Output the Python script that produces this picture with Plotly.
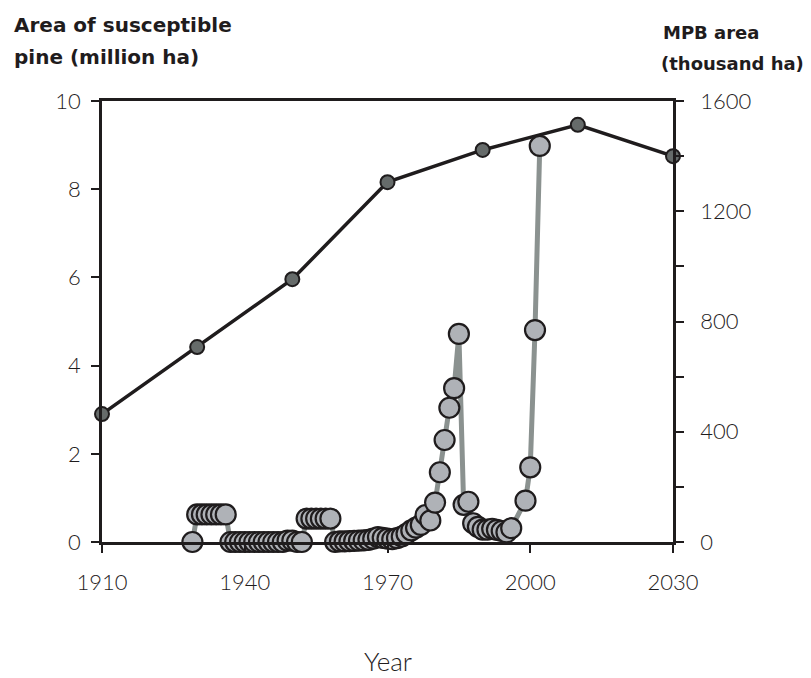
import plotly.graph_objects as go

# Susceptible pine area (million ha), left axis
pine_years = [1910, 1930, 1950, 1970, 1990, 2010, 2030]
pine_area = [2.9, 4.42, 5.96, 8.16, 8.89, 9.46, 8.75]

# MPB area (thousand ha), right axis
mpb_years = [1929,
             1930, 1931, 1932, 1933, 1934, 1935, 1936,
             1937, 1938, 1939, 1940, 1941, 1942, 1943, 1944, 1945, 1946,
             1947, 1948, 1949, 1950, 1951, 1952,
             1953, 1954, 1955, 1956, 1957, 1958,
             1959, 1960, 1961, 1962, 1963, 1964, 1965, 1966, 1967, 1968,
             1969, 1970, 1971, 1972, 1973, 1974, 1975,
             1976, 1977, 1978, 1979, 1980, 1981, 1982, 1983, 1984, 1985,
             1986, 1987, 1988, 1989, 1990, 1991, 1992, 1993, 1994, 1995, 1996,
             1999, 2000, 2001, 2002]
mpb_area = [0,
            100, 100, 100, 100, 100, 100, 100,
            0, 0, 0, 0, 0, 0, 0, 0, 0, 0,
            0, 0, 5, 5, 0, 0,
            85, 85, 85, 85, 85, 85,
            0, 2, 2, 3, 4, 5, 6, 8, 12, 18,
            15, 12, 10, 14, 20, 30, 42,
            52, 62, 98, 78, 143, 253, 370, 487, 558, 755,
            135, 146, 68, 55, 45, 45, 48, 44, 40, 35, 50,
            150, 271, 769, 1437]

x_ticks = [1910, 1940, 1970, 2000, 2030]

INK = "#1f1c1d"
FONT = "Lato"

# page body has an 8px margin; place the plot area so it lands where the reference has it
OFF = 8
L, T, PW, PH = 102 - OFF, 101 - OFF, 571, 441
W, H = 811 - OFF, 678 - OFF

fig = go.Figure()

fig.add_trace(go.Scatter(
    x=pine_years, y=pine_area, mode="lines+markers",
    line=dict(color=INK, width=3.5),
    marker=dict(size=14, color="#666b6a", line=dict(color=INK, width=2)),
    cliponaxis=False, showlegend=False, yaxis="y"))

fig.add_trace(go.Scatter(
    x=mpb_years, y=mpb_area, mode="lines+markers",
    line=dict(color="#8b9290", width=5),
    marker=dict(size=20, color="#afb2b7", line=dict(color=INK, width=2.2)),
    cliponaxis=False, showlegend=False, yaxis="y2"))

axis_font = dict(family=FONT, size=22, color=INK, weight=300)

fig.update_layout(
    width=W, height=H,
    margin=dict(l=L, r=W - L - PW, t=T, b=H - T - PH, autoexpand=False),
    paper_bgcolor="white", plot_bgcolor="white",
    xaxis=dict(range=[1910, 2030], tickvals=x_ticks, ticks="outside",
               ticklen=8, tickwidth=2, tickcolor=INK,
               showline=True, linecolor=INK, linewidth=2.5, mirror=True,
               showgrid=False, zeroline=False, tickfont=axis_font,
               ticklabelstandoff=11),
    yaxis=dict(range=[0, 10], dtick=2, ticks="outside", ticklen=8,
               tickwidth=2, tickcolor=INK, showline=True, linecolor=INK,
               linewidth=2.5, showgrid=False, zeroline=False,
               tickfont=axis_font, ticklabelstandoff=6),
    yaxis2=dict(range=[0, 1600], dtick=400, ticks="outside", ticklen=8,
                tickwidth=2, tickcolor=INK, showline=True, linecolor=INK,
                linewidth=2.5, showgrid=False, zeroline=False,
                overlaying="y", side="right", tickfont=axis_font,
                ticklabelstandoff=12,
                minor=dict(dtick=200, ticks="outside", ticklen=8,
                           tickwidth=2, tickcolor=INK)),
)


def px_to_paper(px, py):
    # px, py are reference page pixel coordinates
    return (px - 102) / PW, (542 - py) / PH


left_title_font = dict(family="DejaVu Sans", size=20, color=INK, weight="bold")
right_title_font = dict(family="DejaVu Sans", size=18, color=INK, weight="bold")
annots = [
    ("Area of susceptible", 12, 25, "left", left_title_font),
    ("pine (million ha)", 12, 57, "left", left_title_font),
    ("MPB area", 661, 32, "left", right_title_font),
    ("(thousand ha)", 806, 63, "right", right_title_font),
]
for text, x, y, anchor, f in annots:
    ax, ay = px_to_paper(x, y)
    fig.add_annotation(text=text, x=ax, y=ay, xref="paper", yref="paper",
                       showarrow=False, font=f, xanchor=anchor,
                       yanchor="middle")

yx, yy = px_to_paper(387.5, 661)
fig.add_annotation(text="Year", x=yx, y=yy, xref="paper", yref="paper",
                   showarrow=False,
                   font=dict(family=FONT, size=26, color=INK, weight=300),
                   xanchor="center", yanchor="middle")

fig.write_html("out.html")
